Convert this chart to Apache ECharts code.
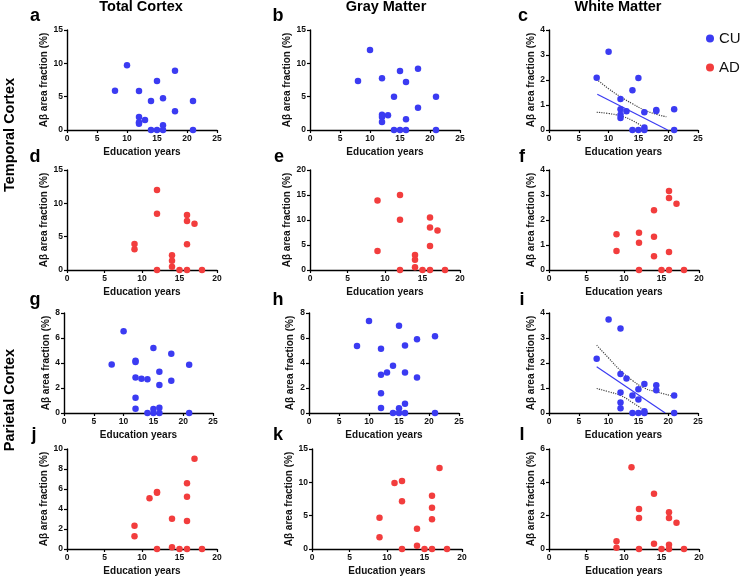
<!DOCTYPE html>
<html>
<head>
<meta charset="utf-8">
<script src="https://cdn.jsdelivr.net/npm/echarts@6/dist/echarts.min.js"></script>
<style>
html, body { margin: 0; padding: 0; background: #fff; }
#chart { width: 746px; height: 579px; }
</style>
</head>
<body>
<div id="chart"></div>
<script>
var colTitles = ['Total Cortex', 'Gray Matter', 'White Matter'];
var rowTitles = ['Temporal Cortex', 'Parietal Cortex'];
var letters = ['a', 'b', 'c', 'd', 'e', 'f', 'g', 'h', 'i', 'j', 'k', 'l'];
var xName = 'Education years';
var yName = 'Aβ area fraction (%)';

// axis ranges per panel (a..l)
var xMax = [25, 25, 25, 20, 20, 20, 25, 25, 25, 20, 20, 20];
var yMax = [15, 15, 4, 15, 20, 4, 8, 8, 4, 10, 15, 6];
var yStep = [5, 5, 1, 5, 5, 1, 2, 2, 1, 2, 5, 2];

// temporal cortex, CU  [education years, Aβ %]
var tTotalCU = [[10, 9.7], [18, 8.9], [15, 7.35], [8, 5.9], [12, 5.85], [14, 4.35], [16, 4.75], [21, 4.35],
    [18, 2.8], [12, 1.95], [13, 1.5], [12, 1.15], [12, 0.95], [16, 0.7], [14, 0], [15, 0], [16, 0], [21, 0]];
var tGrayCU = [[10, 12], [8, 7.35], [12, 7.75], [15, 8.85], [18, 9.2], [16, 7.2], [14, 5], [21, 5],
    [18, 3.35], [12, 2.3], [13, 2.2], [12, 1.95], [12, 1.2], [16, 1.6], [14, 0], [15, 0], [16, 0], [21, 0]];
var tWhiteCU = [[10, 3.13], [8, 2.09], [15, 2.08], [14, 1.59], [12, 1.24], [12, 0.83], [13, 0.75], [12, 0.61],
    [12, 0.48], [16, 0.71], [18, 0.8], [18, 0.76], [21, 0.83], [14, 0], [15, 0], [16, 0.1], [16, 0], [21, 0]];
var tWhiteFit = [[8.1, 1.43], [19.9, 0]];
var tWhiteUpper = [[8, 2.03], [10, 1.65], [12, 1.33], [14, 1.05], [16, 0.8], [18, 0.63], [19.7, 0.53]];
var tWhiteLower = [[8, 0.71], [10, 0.66], [12, 0.56], [14, 0.38], [16.5, 0]];

// temporal cortex, AD
var tTotalAD = [[9, 3.9], [9, 3.1], [12, 12], [12, 8.45], [12, 0], [14, 2.2], [14, 1.4], [14, 0.5],
    [15, 0], [16, 8.25], [16, 7.35], [17, 6.95], [16, 3.85], [16, 0], [18, 0]];
var tGrayAD = [[9, 13.9], [9, 3.8], [12, 15], [12, 10.07], [12, 0], [14, 3], [14, 2.07], [14, 0.53],
    [15, 0], [16, 10.5], [16, 8.5], [17, 7.9], [16, 4.8], [16, 0], [18, 0]];
var tWhiteAD = [[9, 1.43], [9, 0.76], [12, 1.49], [12, 1.09], [12, 0], [14, 2.39], [14, 1.33], [14, 0.55],
    [15, 0], [16, 3.16], [16, 2.88], [17, 2.65], [16, 0.72], [16, 0], [18, 0]];

// parietal cortex, CU
var pTotalCU = [[8, 3.89], [10, 6.55], [12, 4.19], [12, 4.08], [12, 2.85], [13, 2.74], [14, 2.71], [12, 1.23],
    [12, 0.35], [15, 5.2], [15, 0.32], [16, 3.3], [16, 2.25], [16, 0.43], [18, 4.75], [18, 2.58], [21, 3.87],
    [14, 0], [15, 0], [16, 0], [21, 0]];
var pGrayCU = [[8, 5.37], [10, 7.36], [12, 5.15], [12, 3.06], [12, 1.58], [12, 0.4], [13, 3.25], [14, 3.79],
    [15, 6.98], [15, 0.38], [16, 5.4], [16, 3.25], [16, 0.75], [18, 5.9], [18, 2.85], [21, 6.15],
    [14, 0], [15, 0], [16, 0], [21, 0]];
var pWhiteCU = [[8, 2.17], [10, 3.74], [12, 3.38], [12, 1.56], [12, 0.82], [12, 0.42], [12, 0.19], [13, 1.38],
    [14, 0.7], [15, 0.95], [15, 0.54], [16, 1.16], [16, 0.07], [18, 1.11], [18, 0.91], [21, 0.7],
    [14, 0], [15, 0], [16, 0], [21, 0]];
var pWhiteFit = [[8, 1.85], [19.5, 0]];
var pWhiteUpper = [[8, 2.71], [10, 2.2], [12, 1.7], [14, 1.3], [16, 1.0], [18, 0.85], [21, 0.66]];
var pWhiteLower = [[8, 0.98], [10, 0.85], [12, 0.7], [14, 0.42], [16.6, 0]];

// parietal cortex, AD
var pTotalAD = [[9, 2.33], [9, 1.27], [11, 5.07], [12, 5.63], [12, 5.7], [12, 0], [14, 3.03], [14, 0.17],
    [15, 0], [16, 6.57], [16, 5.23], [16, 2.8], [16, 0], [17, 9.03], [18, 0]];
var pGrayAD = [[9, 4.7], [9, 1.75], [11, 9.9], [12, 10.2], [12, 7.15], [12, 0], [14, 3.05], [14, 0.5],
    [15, 0], [16, 8], [16, 6.2], [16, 4.45], [16, 0], [17, 12.15], [18, 0]];
var pWhiteAD = [[9, 0.46], [9, 0.08], [11, 4.9], [12, 2.4], [12, 1.86], [12, 0], [14, 3.32], [14, 0.32],
    [15, 0], [16, 2.2], [16, 1.86], [16, 0.26], [16, 0], [17, 1.58], [18, 0]];

var panelData = [tTotalCU, tGrayCU, tWhiteCU, tTotalAD, tGrayAD, tWhiteAD,
    pTotalCU, pGrayCU, pWhiteCU, pTotalAD, pGrayAD, pWhiteAD];
var panelGroup = ['CU', 'CU', 'CU', 'AD', 'AD', 'AD', 'CU', 'CU', 'CU', 'AD', 'AD', 'AD'];

var blue = '#3b3bf2';
var red = '#f23d3d';
var font = 'Arial, "Liberation Sans", sans-serif';

// plot boxes in px: left, top, width, height
var boxes = [
    [67, 30, 150, 100], [310, 30, 150, 100], [549, 30, 149, 100],
    [67, 170, 150, 100], [310, 170, 150, 100], [549, 170, 150, 100],
    [64, 313, 149, 100], [309, 313, 150, 100], [549, 313, 149, 100],
    [67, 449, 150, 100], [312, 449, 150, 100], [549, 449, 150, 100]
];
var yGap = [15, 15, 12, 15, 16, 12, 12, 14, 11, 15, 18, 12];
var letterPos = [[35, 16], [278, 16], [523, 16], [35, 157], [279, 157], [522, 157],
    [35, 300], [278, 300], [522, 300], [34, 435], [278, 435], [522, 435]];

var axisLine = { show: true, lineStyle: { color: '#000', width: 1.4 } };
var axisTick = { show: true, length: 3, lineStyle: { color: '#000', width: 1.2 } };
var tickLabel = { fontSize: 8.5, fontWeight: 'bold', color: '#111', fontFamily: font, margin: 4 };
var nameStyle = { fontSize: 10, fontWeight: 'bold', color: '#111', fontFamily: font };

var grids = [], xAxes = [], yAxes = [], series = [], graphics = [];

for (var i = 0; i < 12; i++) {
    var b = boxes[i];
    grids.push({ left: b[0], top: b[1], width: b[2], height: b[3] });
    xAxes.push({
        gridIndex: i, type: 'value', min: 0, max: xMax[i], interval: 5,
        name: xName, nameLocation: 'middle', nameGap: 17, nameTextStyle: nameStyle,
        axisLine: axisLine, axisTick: axisTick, axisLabel: tickLabel, splitLine: { show: false }
    });
    yAxes.push({
        gridIndex: i, type: 'value', min: 0, max: yMax[i], interval: yStep[i],
        name: yName, nameLocation: 'middle', nameGap: yGap[i], nameTextStyle: nameStyle,
        axisLine: axisLine, axisTick: axisTick, axisLabel: tickLabel, splitLine: { show: false }
    });
    series.push({
        name: panelGroup[i], type: 'scatter', xAxisIndex: i, yAxisIndex: i,
        data: panelData[i], symbolSize: 6.5, z: 5,
        itemStyle: { color: panelGroup[i] == 'CU' ? blue : red, opacity: 1 }
    });
    graphics.push({
        type: 'text', x: letterPos[i][0], y: letterPos[i][1],
        style: { text: letters[i], font: 'bold 18px ' + font, fill: '#000', align: 'center', verticalAlign: 'middle' }
    });
}

function fitLine(idx, data) {
    series.push({ name: 'fit', type: 'line', xAxisIndex: idx, yAxisIndex: idx, data: data,
        symbol: 'none', lineStyle: { color: blue, width: 1.2 }, z: 3 });
}
function bandLine(idx, data) {
    series.push({ name: 'band', type: 'line', xAxisIndex: idx, yAxisIndex: idx, data: data, smooth: true,
        symbol: 'none', lineStyle: { color: '#444', width: 1.2, type: 'dotted' }, z: 3 });
}
fitLine(2, tWhiteFit); bandLine(2, tWhiteUpper); bandLine(2, tWhiteLower);
fitLine(8, pWhiteFit); bandLine(8, pWhiteUpper); bandLine(8, pWhiteLower);

var colX = [141, 386, 618];
for (var c = 0; c < 3; c++) {
    graphics.push({ type: 'text', x: colX[c], y: 7,
        style: { text: colTitles[c], font: 'bold 14.5px ' + font, fill: '#000', align: 'center', verticalAlign: 'middle' } });
}
var rowY = [135, 400];
for (var r = 0; r < 2; r++) {
    graphics.push({ type: 'text', x: 10, y: rowY[r], rotation: Math.PI / 2,
        style: { text: rowTitles[r], font: 'bold 14.5px ' + font, fill: '#000', align: 'center', verticalAlign: 'middle' } });
}

var chart = echarts.init(document.getElementById('chart'));
chart.setOption({
    backgroundColor: '#fff',
    animation: false,
    legend: {
        data: ['CU', 'AD'], orient: 'vertical', left: 701, top: 26, itemGap: 14,
        icon: 'circle', itemWidth: 8, itemHeight: 8,
        textStyle: { fontSize: 15, color: '#111', fontFamily: font }
    },
    grid: grids,
    xAxis: xAxes,
    yAxis: yAxes,
    series: series,
    graphic: graphics
});
</script>
</body>
</html>
